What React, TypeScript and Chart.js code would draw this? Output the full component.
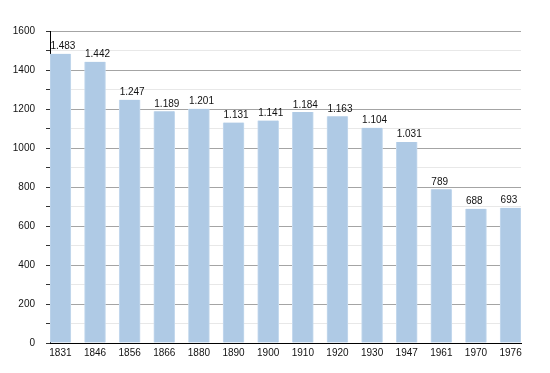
import React, { useEffect, useRef } from "react";
import { Chart, registerables } from "chart.js";

Chart.register(...registerables);

const years = ["1831", "1846", "1856", "1866", "1880", "1890", "1900", "1910", "1920", "1930", "1947", "1961", "1970", "1976"];
const population = [1483, 1442, 1247, 1189, 1201, 1131, 1141, 1184, 1163, 1104, 1031, 789, 688, 693];

const FONT = "'Liberation Sans', Arial, Helvetica, sans-serif";

const fmt = (v: number) => {
  const s = String(v);
  return s.length > 3 ? s.slice(0, s.length - 3) + "." + s.slice(-3) : s;
};

const labelPlugin = {
  id: "valueLabels",
  afterDraw(chart: any) {
    const ctx = chart.ctx;
    const meta = chart.getDatasetMeta(0);
    ctx.save();
    ctx.font = `10px ${FONT}`;
    ctx.fillStyle = "#111";
    ctx.textAlign = "left";
    ctx.textBaseline = "alphabetic";
    meta.data.forEach((el: any, i: number) => {
      ctx.fillText(fmt(population[i]), el.x - el.width / 2 + 0.5, el.y - 4.5);
    });
    ctx.restore();
  },
};

export default function App() {
  const ref = useRef<HTMLCanvasElement>(null);
  useEffect(() => {
    if (!ref.current) return;
    const chart = new Chart(ref.current, {
      type: "bar",
      data: {
        datasets: [
          {
            data: population.map((v, i) => ({ x: i, y: v })),
            backgroundColor: "#afcae5",
            borderColor: "#c6daee",
            borderWidth: { left: 1, right: 1, top: 0, bottom: 0 },
            barThickness: 21,
          },
        ],
      },
      options: {
        responsive: false,
        animation: false,
        layout: { padding: { left: 0, right: 29, top: 31, bottom: 0 } },
        plugins: { legend: { display: false }, tooltip: { enabled: false } },
        scales: {
          x: {
            type: "linear",
            min: -0.3,
            max: 13.3,
            offset: false,
            grid: { display: false, drawTicks: false },
            border: { display: true, color: "#000", width: 1 },
            ticks: {
              stepSize: 1,
              includeBounds: false,
              autoSkip: false,
              maxRotation: 0,
              padding: 4,
              color: "#111",
              font: { family: FONT, size: 10 },
              callback: (v: any) => (Number.isInteger(v) && years[v] ? years[v] : ""),
            },
            afterFit: (s: any) => {
              s.height = 30;
            },
          },
          y: {
            min: 0,
            max: 1600,
            grid: {
              color: (c: any) => (c.tick && c.tick.value % 200 === 0 ? "#a4a4a4" : "#e8e8e8"),
              tickColor: "#333",
              tickLength: 4,
            },
            border: { display: true, color: "#000", width: 1 },
            ticks: {
              stepSize: 100,
              autoSkip: false,
              padding: 11,
              color: "#111",
              font: { family: FONT, size: 10 },
              callback: (v: any) => (v % 200 === 0 ? String(v) : ""),
            },
            afterFit: (s: any) => {
              s.width = 50;
            },
          },
        },
      },
      plugins: [labelPlugin],
    });
    return () => chart.destroy();
  }, []);
  return (
    <div style={{ position: "absolute", left: 0, top: 0, width: 550, height: 373, background: "#fff" }}>
      <canvas ref={ref} width={550} height={373} />
    </div>
  );
}
